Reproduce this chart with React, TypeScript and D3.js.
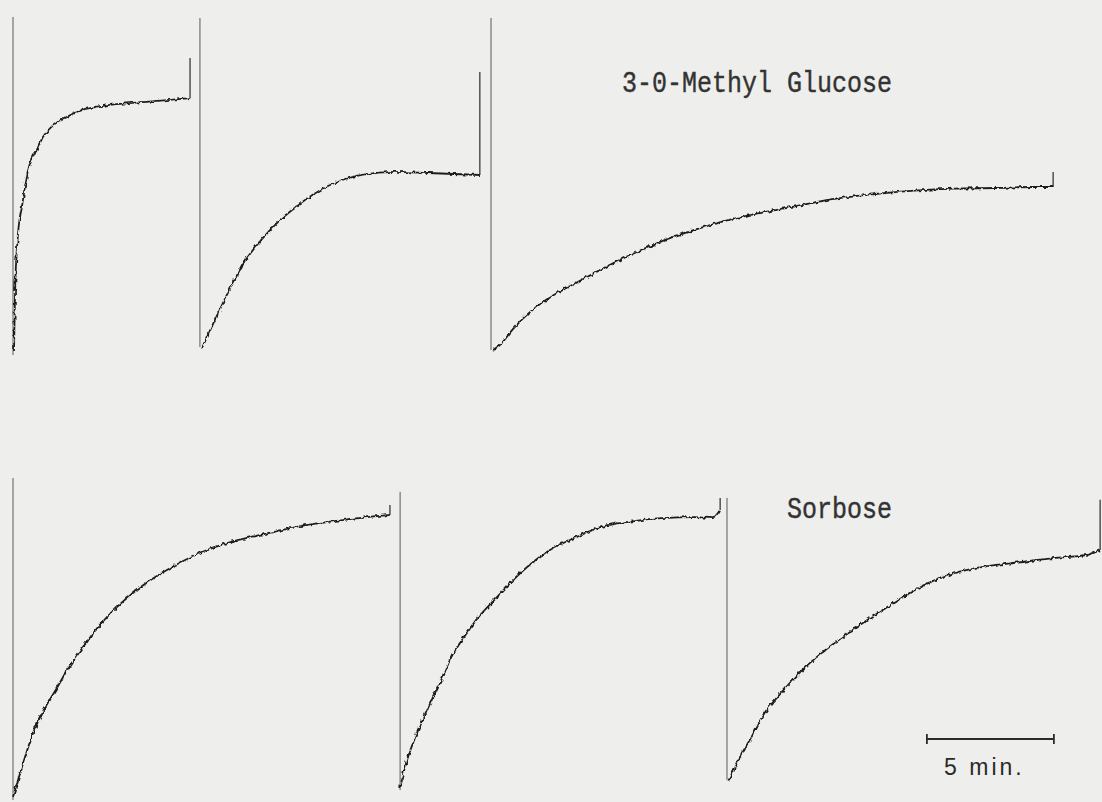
import React from "react";
import * as d3 from "d3";

// ---- Data (time in minutes since each trace start, response in % of full scale) ----
const trace1: [number, number][] = [
  [0.04, 0.6], [0.08, 17.7], [0.2, 35.6], [0.35, 43.4], [0.47, 49.4], [0.67, 56.6],
  [0.94, 60.5], [1.18, 64.4], [1.57, 67.8], [2.13, 70.4], [2.64, 72.2], [3.43, 73.6],
  [4.72, 74.6], [6.06, 75.4], [6.97, 76.0],
];
const trace2: [number, number][] = [
  [0.08, 1.2], [0.59, 9.6], [1.1, 17.7], [1.77, 27.2], [2.44, 33.8], [3.07, 38.9],
  [3.74, 43.2], [4.41, 46.9], [5.04, 49.7], [5.71, 51.8], [6.38, 53.0], [7.68, 53.9],
  [8.98, 53.6], [11.02, 53.0],
];
const trace3: [number, number][] = [
  [0.08, 0.6], [0.35, 2.1], [0.87, 6.9], [1.54, 12.0], [2.2, 15.8], [2.83, 18.6],
  [3.5, 21.3], [4.23, 24.3], [5.0, 27.3], [5.79, 30.1], [6.54, 32.6], [7.34, 34.9],
  [8.1, 36.8], [8.9, 38.6], [10.45, 41.4], [12.01, 43.7], [13.56, 45.9], [15.12, 47.3],
  [16.67, 48.3], [18.23, 48.9], [19.78, 49.1], [21.3, 49.4], [22.13, 49.4],
];
const trace4: [number, number][] = [
  [0.0, 0.9], [0.28, 8.4], [0.79, 20.9], [1.18, 27.7], [1.73, 35.0], [2.13, 40.6],
  [2.76, 47.8], [3.43, 54.8], [4.09, 60.3], [4.72, 64.7], [5.39, 68.6], [6.06, 71.9],
  [7.36, 77.2], [8.66, 80.8], [10.0, 83.3], [11.3, 85.6], [12.6, 87.1], [13.94, 88.4],
  [14.84, 89.1],
];
const trace5: [number, number][] = [
  [0.0, 4.1], [0.2, 10.5], [0.59, 19.5], [0.98, 26.5], [1.26, 31.5], [1.65, 38.0],
  [2.05, 45.2], [2.44, 50.0], [3.07, 57.0], [3.74, 62.8], [4.8, 71.4], [5.71, 77.2],
  [7.01, 82.4], [7.95, 85.4], [8.98, 86.9], [10.31, 88.1], [11.61, 88.4], [12.28, 88.1],
  [12.6, 90.6],
];
const trace6: [number, number][] = [
  [0.04, 5.6], [0.51, 13.4], [1.02, 20.5], [1.42, 26.5], [1.97, 32.0], [2.48, 36.6],
  [2.99, 40.8], [3.66, 45.5], [4.33, 49.6], [4.96, 53.2], [5.63, 56.8], [6.3, 60.2],
  [7.09, 64.2], [7.87, 67.6], [8.9, 70.8], [10.24, 73.1], [11.54, 74.3], [12.83, 75.6],
  [14.17, 76.6], [14.69, 78.1],
];

// start time of each trace on the chart-paper time axis (minutes)
const topStarts = [0, 7.36, 18.82];
const bottomStarts = [0, 15.24, 28.11];
// vertical start markers [bottom, top] in % full scale
const topMarkers: [number, number][] = [[-0.9, 100.3], [1.5, 100], [0.6, 100]];
const bottomMarkers: [number, number][] = [[0, 100.6], [3.1, 96.3], [6.3, 94.4]];
// end spike (pen marks) top values
const topSpikes = [88.0, 83.8, 53.9];
const bottomSpikes = [92.2, 94.4, 93.8];

const topLabel = "3-0-Methyl Glucose";
const bottomLabel = "Sorbose";
const scaleBarMinutes = 5;
const scaleBarStart = 35.98;
const scaleBarLabel = "5 min.";

const W = 1102;
const H = 802;

export default function App() {
  const x = d3.scaleLinear().domain([0, 43]).range([13, 13 + 43 * 25.4]);
  const yTop = d3.scaleLinear().domain([0, 100]).range([352, 18]);
  const yBot = d3.scaleLinear().domain([0, 100]).range([800, 480]);

  const topTraces = [trace1, trace2, trace3];
  const bottomTraces = [trace4, trace5, trace6];

  const renderRow = (
    traces: [number, number][][],
    starts: number[],
    markers: [number, number][],
    spikes: number[],
    y: d3.ScaleLinear<number, number>,
    key: string
  ) =>
    traces.map((tr, i) => {
      const s = starts[i];
      const line = d3
        .line<[number, number]>()
        .x((d) => x(s + d[0]))
        .y((d) => y(d[1]))
        .curve(d3.curveMonotoneX);
      const last = tr[tr.length - 1];
      return (
        <g key={key + i}>
          <line
            x1={x(s)}
            x2={x(s)}
            y1={y(markers[i][0])}
            y2={y(markers[i][1])}
            stroke="#5a5a5a"
            strokeWidth={1}
          />
          <path
            d={line(tr) || ""}
            fill="none"
            stroke="#1e1e1e"
            strokeWidth={1.8}
            strokeLinejoin="round"
            filter="url(#jag)"
          />
          <line
            x1={x(s + last[0])}
            x2={x(s + last[0])}
            y1={y(last[1])}
            y2={y(spikes[i])}
            stroke="#2a2a2a"
            strokeWidth={1.2}
          />
        </g>
      );
    });

  const sb0 = x(scaleBarStart);
  const sb1 = x(scaleBarStart + scaleBarMinutes);
  const sbY = 739;
  const typeFont = "'Liberation Mono', 'Courier New', monospace";

  return (
    <svg
      width={W}
      height={H}
      style={{ position: "absolute", left: 0, top: 0 }}
      xmlns="http://www.w3.org/2000/svg"
    >
      <defs>
        <filter id="jag" filterUnits="userSpaceOnUse" x={0} y={0} width={W} height={H}>
          <feTurbulence type="fractalNoise" baseFrequency="0.32 0.2" numOctaves={1} seed={7} result="n" />
          <feDisplacementMap in="SourceGraphic" in2="n" scale={5} xChannelSelector="R" yChannelSelector="G" />
        </filter>
      </defs>
      <rect x={0} y={0} width={W} height={H} fill="#eeeeec" />
      {renderRow(topTraces, topStarts, topMarkers, topSpikes, yTop, "t")}
      {renderRow(bottomTraces, bottomStarts, bottomMarkers, bottomSpikes, yBot, "b")}
      <g transform="translate(622,92) scale(1,1.18)">
        <text x={0} y={0} fontFamily={typeFont} fontSize={25} fill="#333" stroke="#333" strokeWidth={0.35}>
          {topLabel}
        </text>
      </g>
      <g transform="translate(787,518) scale(1,1.18)">
        <text x={0} y={0} fontFamily={typeFont} fontSize={25} fill="#333" stroke="#333" strokeWidth={0.35}>
          {bottomLabel}
        </text>
      </g>
      <g stroke="#2a2a2a" strokeWidth={1.8}>
        <line x1={sb0} x2={sb1} y1={sbY} y2={sbY} />
        <line x1={sb0} x2={sb0} y1={sbY - 5} y2={sbY + 5} />
        <line x1={sb1} x2={sb1} y1={sbY - 5} y2={sbY + 5} />
      </g>
      <text
        x={(sb0 + sb1) / 2 - 6}
        y={775}
        textAnchor="middle"
        fontFamily="'Liberation Sans', Arial, sans-serif"
        fontSize={23}
        letterSpacing={3}
        fill="#2a2a2a"
      >
        {scaleBarLabel}
      </text>
    </svg>
  );
}
